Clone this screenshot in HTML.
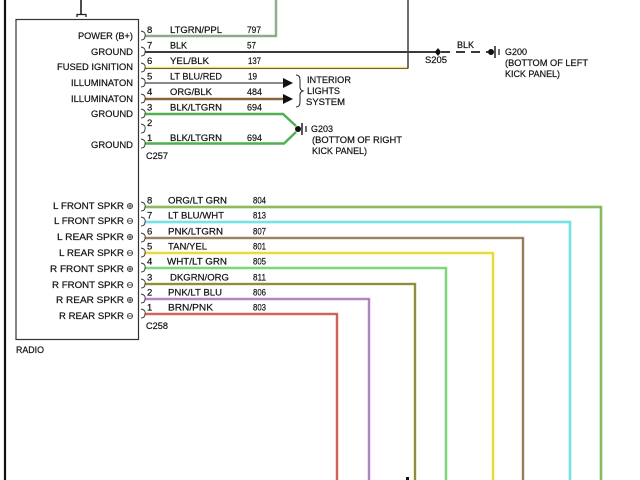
<!DOCTYPE html>
<html><head><meta charset="utf-8"><style>
html,body{margin:0;padding:0;background:#fff;}
svg{display:block;}
text{font-family:"Liberation Sans",Arial,sans-serif;font-size:9.5px;fill:#111;stroke:#111;stroke-width:0.2px;}
</style></head><body>
<svg width="640" height="480" viewBox="0 0 640 480" xmlns="http://www.w3.org/2000/svg">
<rect width="640" height="480" fill="#fff"/>
<!-- outer left border -->
<line x1="5" y1="0" x2="5" y2="480" stroke="#111" stroke-width="2.2"/>
<!-- top connector symbol -->
<line x1="81" y1="0" x2="81" y2="14" stroke="#222" stroke-width="1.6"/>
<path d="M77,17 L77,14.5 L86,14.5 L86,17" fill="none" stroke="#222" stroke-width="1.3"/>
<!-- radio box -->
<rect x="16" y="19.5" width="122.5" height="320" fill="none" stroke="#333" stroke-width="1.2"/>

<!-- ===== C257 wires ===== -->
<path d="M145,36 L276,36 L276,0" fill="none" stroke="#b8e4b0" stroke-width="3"/>
<path d="M145,36 L276,36 L276,0" fill="none" stroke="#8a8f8a" stroke-width="1.4"/>
<line x1="145" y1="52" x2="436" y2="52" stroke="#3a3a3a" stroke-width="2"/>
<line x1="441" y1="52" x2="488" y2="52" stroke="#3a3a3a" stroke-width="2" stroke-dasharray="9,6"/>
<path d="M438,48 L441,52 L438,56 L435,52 Z" fill="#111"/>
<circle cx="438" cy="52" r="2.5" fill="#111"/>
<circle cx="491" cy="52" r="3" fill="#111"/>
<line x1="495" y1="46" x2="495" y2="58" stroke="#111" stroke-width="1.4"/>
<line x1="499" y1="49" x2="499" y2="55" stroke="#111" stroke-width="1.2"/>
<path d="M145,68 L408,68" fill="none" stroke="#f0e070" stroke-width="2.6"/>
<path d="M145,68.5 L408,68.5" fill="none" stroke="#6a6540" stroke-width="0.9"/>
<line x1="408" y1="0" x2="408" y2="68.5" stroke="#4a4a4a" stroke-width="1.6"/>
<line x1="145" y1="83" x2="284" y2="83" stroke="#8a8a8a" stroke-width="2"/>
<path d="M283,78 L293,83 L283,88 Z" fill="#111"/>
<line x1="145" y1="99" x2="284" y2="99" stroke="#8c6238" stroke-width="2.6"/>
<path d="M283,94 L293,99 L283,104 Z" fill="#111"/>
<path d="M296,75 Q300,75 300,80 L300,87 Q300,90 303,91 Q300,92 300,95 L300,102 Q300,107 296,107" fill="none" stroke="#222" stroke-width="1"/>
<path d="M145,114 L283,114 L296,126" fill="none" stroke="#50b050" stroke-width="2.4"/>
<path d="M145,143.5 L284,143.5 L296,132" fill="none" stroke="#50b050" stroke-width="2.4"/>
<circle cx="298" cy="129" r="3" fill="#111"/>
<line x1="302" y1="123" x2="302" y2="135" stroke="#111" stroke-width="1.4"/>
<line x1="306" y1="126" x2="306" y2="132" stroke="#111" stroke-width="1.2"/>

<g fill="none" stroke="#333" stroke-width="0.9">
<path d="M141,31 Q146,32 145,36 Q145,40 141,40"/>
<path d="M141,47 Q146,48 145,52 Q145,56 141,56"/>
<path d="M141,63 Q146,64 145,68 Q145,72 141,72"/>
<path d="M141,78 Q146,79 145,83 Q145,87 141,87"/>
<path d="M141,94 Q146,95 145,99 Q145,103 141,103"/>
<path d="M141,109 Q146,110 145,114 Q145,118 141,118"/>
<path d="M141,124 Q146,125 145,129 Q145,133 141,133"/>
<path d="M141,139 Q146,140 145,144 Q145,148 141,148"/>
</g>

<!-- ===== C258 speaker wires ===== -->
<g fill="none">
<path d="M145,207 L601,207 L601,480" stroke="#9ae49a" stroke-width="3"/>
<path d="M145,207 L601,207 L601,480" stroke="#8f9a3e" stroke-width="1.3"/>
<path d="M145,222 L570,222 L570,480" stroke="#98f0f0" stroke-width="3"/>
<path d="M145,222 L570,222 L570,480" stroke="#6cd6dc" stroke-width="1.3"/>
<path d="M145,238 L523,238 L523,480" stroke="#e8c0c8" stroke-width="3"/>
<path d="M145,238 L523,238 L523,480" stroke="#76743a" stroke-width="1.6"/>
<path d="M145,253 L493,253 L493,480" stroke="#fbf27a" stroke-width="3"/>
<path d="M145,253 L493,253 L493,480" stroke="#e0c828" stroke-width="1.3"/>
<path d="M145,268 L446,268 L446,480" stroke="#b4f0b0" stroke-width="3"/>
<path d="M145,268 L446,268 L446,480" stroke="#66c466" stroke-width="1.3"/>
<path d="M145,284 L415,284 L415,480" stroke="#d8d890" stroke-width="3"/>
<path d="M145,284 L415,284 L415,480" stroke="#74742e" stroke-width="1.5"/>
<path d="M145,299 L369,299 L369,480" stroke="#f0b8e8" stroke-width="3"/>
<path d="M145,299 L369,299 L369,480" stroke="#8070a8" stroke-width="1.3"/>
<path d="M145,314 L337,314 L337,480" stroke="#f4b0a8" stroke-width="3"/>
<path d="M145,314 L337,314 L337,480" stroke="#b83a30" stroke-width="1.3"/>
</g>
<g fill="none" stroke="#333" stroke-width="0.9">
<path d="M141,202 Q146,203 145,207 Q145,211 141,211"/>
<path d="M141,217 Q146,218 145,222 Q145,226 141,226"/>
<path d="M141,233 Q146,234 145,238 Q145,242 141,242"/>
<path d="M141,248 Q146,249 145,253 Q145,257 141,257"/>
<path d="M141,263 Q146,264 145,268 Q145,272 141,272"/>
<path d="M141,279 Q146,280 145,284 Q145,288 141,288"/>
<path d="M141,294 Q146,295 145,299 Q145,303 141,303"/>
<path d="M141,309 Q146,310 145,314 Q145,318 141,318"/>
</g>
<g fill="none" stroke="#333" stroke-width="0.8">
<circle cx="130" cy="206" r="2.6"/><line x1="127.4" y1="206" x2="132.6" y2="206"/><line x1="130" y1="203.4" x2="130" y2="208.6"/>
<circle cx="130" cy="221" r="2.6"/><line x1="127.4" y1="221" x2="132.6" y2="221"/>
<circle cx="130" cy="237" r="2.6"/><line x1="127.4" y1="237" x2="132.6" y2="237"/><line x1="130" y1="234.4" x2="130" y2="239.6"/>
<circle cx="130" cy="253" r="2.6"/><line x1="127.4" y1="253" x2="132.6" y2="253"/>
<circle cx="130" cy="269" r="2.6"/><line x1="127.4" y1="269" x2="132.6" y2="269"/><line x1="130" y1="266.4" x2="130" y2="271.6"/>
<circle cx="130" cy="285" r="2.6"/><line x1="127.4" y1="285" x2="132.6" y2="285"/>
<circle cx="130" cy="300" r="2.6"/><line x1="127.4" y1="300" x2="132.6" y2="300"/><line x1="130" y1="297.4" x2="130" y2="302.6"/>
<circle cx="130" cy="316" r="2.6"/><line x1="127.4" y1="316" x2="132.6" y2="316"/>
</g>

<!-- ===== TEXT ===== -->
<g>
<text x="78" y="39" textLength="55" lengthAdjust="spacingAndGlyphs">POWER (B+)</text>
<text x="91" y="55" textLength="42" lengthAdjust="spacingAndGlyphs">GROUND</text>
<text x="57" y="70" textLength="76" lengthAdjust="spacingAndGlyphs">FUSED IGNITION</text>
<text x="71" y="86" textLength="62" lengthAdjust="spacingAndGlyphs">ILLUMINATON</text>
<text x="71" y="102" textLength="62" lengthAdjust="spacingAndGlyphs">ILLUMINATON</text>
<text x="91" y="117" textLength="42" lengthAdjust="spacingAndGlyphs">GROUND</text>
<text x="91" y="148" textLength="42" lengthAdjust="spacingAndGlyphs">GROUND</text>

<text x="147" y="33">8</text>
<text x="147" y="48.5">7</text>
<text x="147" y="64">6</text>
<text x="147" y="79.5">5</text>
<text x="147" y="95">4</text>
<text x="147" y="110.5">3</text>
<text x="147" y="126">2</text>
<text x="147" y="141">1</text>

<text x="170" y="33" textLength="52" lengthAdjust="spacingAndGlyphs">LTGRN/PPL</text>
<text x="170" y="48.5" textLength="17" lengthAdjust="spacingAndGlyphs">BLK</text>
<text x="170" y="64" textLength="39" lengthAdjust="spacingAndGlyphs">YEL/BLK</text>
<text x="170" y="79.5" textLength="52" lengthAdjust="spacingAndGlyphs">LT BLU/RED</text>
<text x="170" y="95" textLength="42" lengthAdjust="spacingAndGlyphs">ORG/BLK</text>
<text x="170" y="110.5" textLength="52" lengthAdjust="spacingAndGlyphs">BLK/LTGRN</text>
<text x="170" y="141" textLength="52" lengthAdjust="spacingAndGlyphs">BLK/LTGRN</text>

<text x="247" y="33" textLength="14" lengthAdjust="spacingAndGlyphs">797</text>
<text x="247" y="48.5" textLength="9" lengthAdjust="spacingAndGlyphs">57</text>
<text x="248" y="64" textLength="13" lengthAdjust="spacingAndGlyphs">137</text>
<text x="248" y="79.5" textLength="9" lengthAdjust="spacingAndGlyphs">19</text>
<text x="247" y="95" textLength="15" lengthAdjust="spacingAndGlyphs">484</text>
<text x="247" y="110.5" textLength="15" lengthAdjust="spacingAndGlyphs">694</text>
<text x="247" y="141" textLength="15" lengthAdjust="spacingAndGlyphs">694</text>

<text x="146" y="159" textLength="22" lengthAdjust="spacingAndGlyphs">C257</text>

<text x="457" y="48" textLength="17" lengthAdjust="spacingAndGlyphs">BLK</text>
<text x="425" y="63" textLength="22" lengthAdjust="spacingAndGlyphs">S205</text>
<text x="505" y="55" textLength="22" lengthAdjust="spacingAndGlyphs">G200</text>
<text x="505" y="66" textLength="83" lengthAdjust="spacingAndGlyphs">(BOTTOM OF LEFT</text>
<text x="505" y="77" textLength="55" lengthAdjust="spacingAndGlyphs">KICK PANEL)</text>

<text x="307" y="83" textLength="44" lengthAdjust="spacingAndGlyphs">INTERIOR</text>
<text x="307" y="94" textLength="33" lengthAdjust="spacingAndGlyphs">LIGHTS</text>
<text x="306" y="105" textLength="39" lengthAdjust="spacingAndGlyphs">SYSTEM</text>

<text x="311" y="132" textLength="22" lengthAdjust="spacingAndGlyphs">G203</text>
<text x="312" y="143" textLength="90" lengthAdjust="spacingAndGlyphs">(BOTTOM OF RIGHT</text>
<text x="312" y="154" textLength="55" lengthAdjust="spacingAndGlyphs">KICK PANEL)</text>

<text x="53" y="209" textLength="71" lengthAdjust="spacingAndGlyphs">L FRONT SPKR</text>
<text x="54" y="224" textLength="70" lengthAdjust="spacingAndGlyphs">L FRONT SPKR</text>
<text x="57" y="240" textLength="67" lengthAdjust="spacingAndGlyphs">L REAR SPKR</text>
<text x="59" y="256" textLength="65" lengthAdjust="spacingAndGlyphs">L REAR SPKR</text>
<text x="50" y="272" textLength="74" lengthAdjust="spacingAndGlyphs">R FRONT SPKR</text>
<text x="52" y="288" textLength="72" lengthAdjust="spacingAndGlyphs">R FRONT SPKR</text>
<text x="56" y="303" textLength="68" lengthAdjust="spacingAndGlyphs">R REAR SPKR</text>
<text x="59" y="319" textLength="65" lengthAdjust="spacingAndGlyphs">R REAR SPKR</text>

<text x="147" y="203.5">8</text>
<text x="147" y="218.5">7</text>
<text x="147" y="234.5">6</text>
<text x="147" y="249.5">5</text>
<text x="147" y="264.5">4</text>
<text x="147" y="280.5">3</text>
<text x="147" y="295.5">2</text>
<text x="147" y="310.5">1</text>

<text x="168" y="203.5" textLength="59" lengthAdjust="spacingAndGlyphs">ORG/LT GRN</text>
<text x="168" y="218.5" textLength="56" lengthAdjust="spacingAndGlyphs">LT BLU/WHT</text>
<text x="168" y="234.5" textLength="55" lengthAdjust="spacingAndGlyphs">PNK/LTGRN</text>
<text x="168" y="249.5" textLength="39" lengthAdjust="spacingAndGlyphs">TAN/YEL</text>
<text x="167" y="264.5" textLength="60" lengthAdjust="spacingAndGlyphs">WHT/LT GRN</text>
<text x="170" y="280.5" textLength="59" lengthAdjust="spacingAndGlyphs">DKGRN/ORG</text>
<text x="168" y="295.5" textLength="54" lengthAdjust="spacingAndGlyphs">PNK/LT BLU</text>
<text x="168" y="310.5" textLength="45" lengthAdjust="spacingAndGlyphs">BRN/PNK</text>

<text x="253" y="203.5" textLength="13" lengthAdjust="spacingAndGlyphs">804</text>
<text x="253" y="218.5" textLength="13" lengthAdjust="spacingAndGlyphs">813</text>
<text x="253" y="234.5" textLength="13" lengthAdjust="spacingAndGlyphs">807</text>
<text x="253" y="249.5" textLength="13" lengthAdjust="spacingAndGlyphs">801</text>
<text x="253" y="264.5" textLength="13" lengthAdjust="spacingAndGlyphs">805</text>
<text x="253" y="280.5" textLength="13" lengthAdjust="spacingAndGlyphs">811</text>
<text x="253" y="295.5" textLength="13" lengthAdjust="spacingAndGlyphs">806</text>
<text x="253" y="310.5" textLength="13" lengthAdjust="spacingAndGlyphs">803</text>

<text x="146" y="329" textLength="22" lengthAdjust="spacingAndGlyphs">C258</text>
<text x="16" y="353" textLength="28" lengthAdjust="spacingAndGlyphs">RADIO</text>
</g>
<rect x="406" y="477" width="3" height="3" fill="#111"/>
</svg>
</body></html>
